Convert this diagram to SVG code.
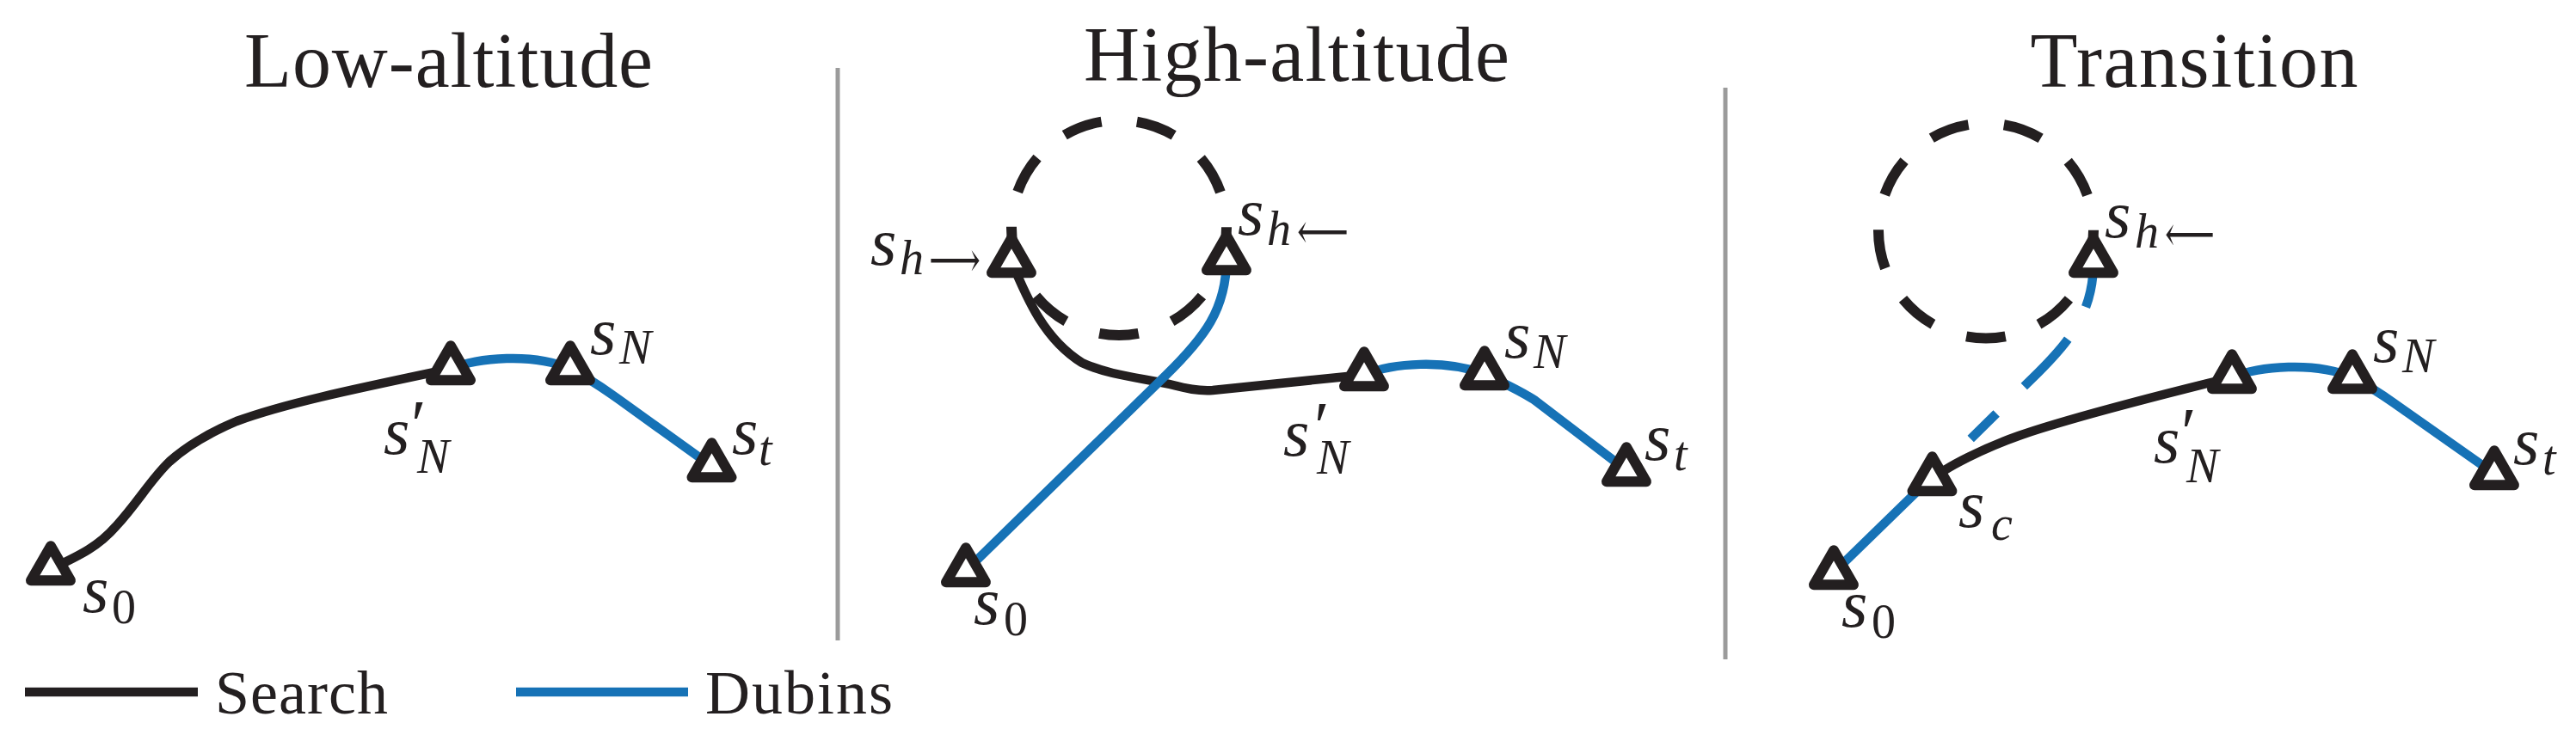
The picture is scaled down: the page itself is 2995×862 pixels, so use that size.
<svg xmlns="http://www.w3.org/2000/svg" xmlns:xlink="http://www.w3.org/1999/xlink" width="2995" height="862" viewBox="0 0 2995 862">
<style>
.tri{fill:#fff;stroke:#231f20;stroke-width:12;stroke-linejoin:round}
.search{fill:none;stroke:#231f20;stroke-width:10.5}
.dubins{fill:none;stroke:#1672b6;stroke-width:10.5}
.circ{fill:none;stroke:#231f20;stroke-width:12;stroke-dasharray:45.8 41.47;stroke-dashoffset:1.1}
.sep{stroke:#9b9b9b;stroke-width:5}
.title{font-size:90px;text-anchor:middle}
.legend{font-size:72px}
.m{font-style:italic;font-size:78px}
.sub{font-size:56px}
.up{font-style:normal}
.arr{font-style:normal;font-size:58px}
.pr{font-style:normal;font-size:80px}
</style>
<defs>
<path id="tri" class="tri" d="M0,-26.7 L23,13.3 L-23,13.3 Z"/>
</defs>
<rect width="2995" height="862" fill="#fff"/>

<g font-family="Liberation Serif, DejaVu Serif, serif" fill="#231f20">
<g id="titles">
<text class="title" x="521.5" y="101" textLength="475">Low-altitude</text>
<text class="title" x="1507.5" y="94" textLength="495">High-altitude</text>
<text class="title" x="2551" y="101" textLength="381">Transition</text>
</g>

<g id="separators">
<line class="sep" x1="974" y1="79" x2="974" y2="745"/>
<line class="sep" x1="2006" y1="102" x2="2006" y2="767"/>
</g>

<g id="holding-circles">
<circle class="circ" cx="1301" cy="265" r="125"/>
<circle class="circ" cx="2309" cy="268.5" r="125"/>
</g>

<g id="connectors">
<path class="search" d="M59,662 C95,645 115,635 135,612 C160,585 175,558 197,537 C217,519 240,505 275,490 C330,470 400,455 524,429"/>
<path class="dubins" d="M524,429 C555,416 620,410 663,429"/>
<path class="dubins" d="M663,429 C690,443 700,451 720,465 L827,542"/>
<path class="search" d="M1176,304 C1195,350 1215,395 1258,422 C1290,437 1330,440 1360,447 C1380,452 1392,455 1410,454 L1586,436"/>
<path class="dubins" d="M1123,664 L1355,437 C1400,393 1426,360 1426,301"/>
<path class="dubins" d="M1586,436 C1620,422 1680,418 1726,435"/>
<path class="dubins" d="M1726,435 C1750,447 1765,453 1785,466 L1891,547"/>
<path class="search" d="M2246,558 C2262,543 2310,520 2347,507 C2395,490 2500,462 2595,439"/>
<path class="dubins" d="M2131,667 L2247,554"/>
<path class="dubins" stroke-dasharray="0 62 42 45 75 43 38 300" d="M2247,554 L2363,440 C2408,396 2434,363 2434,304"/>
<path class="dubins" d="M2595,439 C2626,426 2692,420 2735,439"/>
<path class="dubins" d="M2735,439 C2762,453 2772,461 2792,475 L2900,551"/>
</g>

<g id="p1-s0"><use href="#tri" x="59" y="662"/><text class="m"><tspan x="96" y="712">s</tspan><tspan class="sub up" x="130" y="725">0</tspan></text></g>
<g id="p1-sNprime"><use href="#tri" x="524" y="429"/><text class="m"><tspan x="446" y="528">s</tspan><tspan class="sub" x="485" y="550">N</tspan></text><text class="m pr" x="478" y="521">′</text></g>
<g id="p1-sN"><use href="#tri" x="663" y="429"/><text class="m"><tspan x="686" y="412">s</tspan><tspan class="sub" x="720" y="423">N</tspan></text></g>
<g id="p1-st"><use href="#tri" x="827.5" y="542"/><text class="m"><tspan x="851" y="528">s</tspan><tspan class="sub" x="882" y="541">t</tspan></text></g>

<g id="p2-sh-right"><use href="#tri" x="1176" y="304"/><text class="m"><tspan x="1012" y="308">s</tspan><tspan class="sub" x="1046" y="319">h</tspan></text><text class="arr" x="1080" y="322" textLength="60" lengthAdjust="spacingAndGlyphs">⟶</text></g>
<g id="p2-sh-left"><use href="#tri" x="1426" y="301"/><text class="m"><tspan x="1439" y="273">s</tspan><tspan class="sub" x="1473" y="285">h</tspan></text><text class="arr" x="1508" y="289" textLength="60" lengthAdjust="spacingAndGlyphs">⟵</text></g>
<g id="p2-s0"><use href="#tri" x="1123" y="664"/><text class="m"><tspan x="1132" y="726">s</tspan><tspan class="sub up" x="1167" y="739">0</tspan></text></g>
<g id="p2-sNprime"><use href="#tri" x="1586" y="436"/><text class="m"><tspan x="1492" y="530">s</tspan><tspan class="sub" x="1531" y="551">N</tspan></text><text class="m pr" x="1528" y="523">′</text></g>
<g id="p2-sN"><use href="#tri" x="1726" y="435"/><text class="m"><tspan x="1749" y="416">s</tspan><tspan class="sub" x="1783" y="428">N</tspan></text></g>
<g id="p2-st"><use href="#tri" x="1891" y="547"/><text class="m"><tspan x="1912" y="535">s</tspan><tspan class="sub" x="1946" y="547">t</tspan></text></g>

<g id="p3-sh-left"><use href="#tri" x="2434" y="304"/><text class="m"><tspan x="2447" y="276">s</tspan><tspan class="sub" x="2482" y="288">h</tspan></text><text class="arr" x="2517" y="292" textLength="58" lengthAdjust="spacingAndGlyphs">⟵</text></g>
<g id="p3-sc"><use href="#tri" x="2246.5" y="558"/><text class="m"><tspan x="2277" y="613">s</tspan><tspan class="sub" x="2315" y="628">c</tspan></text></g>
<g id="p3-s0"><use href="#tri" x="2132" y="667"/><text class="m"><tspan x="2141" y="729">s</tspan><tspan class="sub up" x="2176" y="742">0</tspan></text></g>
<g id="p3-sNprime"><use href="#tri" x="2595" y="439"/><text class="m"><tspan x="2504" y="538">s</tspan><tspan class="sub" x="2542" y="561">N</tspan></text><text class="m pr" x="2536" y="530">′</text></g>
<g id="p3-sN"><use href="#tri" x="2735" y="439"/><text class="m"><tspan x="2759" y="421">s</tspan><tspan class="sub" x="2793" y="433">N</tspan></text></g>
<g id="p3-st"><use href="#tri" x="2900" y="551"/><text class="m"><tspan x="2922" y="540">s</tspan><tspan class="sub" x="2956" y="552">t</tspan></text></g>

<g id="legend">
<line x1="29" y1="805" x2="230" y2="805" stroke="#231f20" stroke-width="10.5"/>
<text class="legend" x="250" y="830" textLength="201">Search</text>
<line x1="600" y1="805" x2="800" y2="805" stroke="#1672b6" stroke-width="10.5"/>
<text class="legend" x="820" y="830" textLength="218">Dubins</text>
</g>
</g>
</svg>
